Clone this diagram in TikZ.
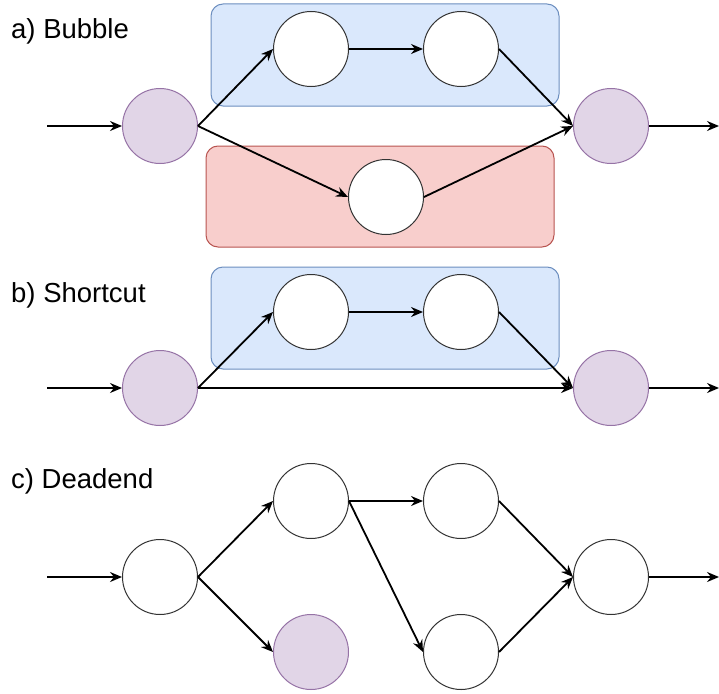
\documentclass[tikz,border=0pt]{standalone}
\usepackage{fontspec}
\setmainfont{Liberation Sans}
\usetikzlibrary{arrows.meta}
\definecolor{bluefill}{HTML}{DAE8FC}
\definecolor{bluestroke}{HTML}{6C8EBF}
\definecolor{redfill}{HTML}{F8CECC}
\definecolor{redstroke}{HTML}{B85450}
\definecolor{purplefill}{HTML}{E1D5E7}
\definecolor{purplestroke}{HTML}{9673A6}
\tikzset{
  state/.style={circle, draw=black!80, line width=1pt, fill=white, minimum size=75pt, inner sep=0pt},
  marked/.style={state, draw=purplestroke, fill=purplefill},
  bluegroup/.style={draw=bluestroke, fill=bluefill, line width=1pt, rounded corners=12pt},
  redgroup/.style={draw=redstroke, fill=redfill, line width=1pt, rounded corners=12pt},
  flow/.style={line width=1.8pt, -{Stealth[length=12pt,width=10pt,inset=4pt]}},
  caption/.style={anchor=base west, inner sep=0pt, font=\fontsize{27.5pt}{30pt}\selectfont}
}
\begin{document}
\begin{tikzpicture}[x=1pt,y=-1pt]
\useasboundingbox (0,0) rectangle (719,693);

% ---- a) Bubble ----
\node[caption] (la) at (11,38) {a) Bubble};
\draw[bluegroup] (211,4) rectangle (559,106);
\draw[redgroup] (206,146) rectangle (554,247);
\node[marked] (aL) at (160,126) {};
\node[state]  (aT1) at (311,49) {};
\node[state]  (aT2) at (461,49) {};
\node[state]  (aB) at (386,197) {};
\node[marked] (aR) at (611,126) {};
\coordinate (aIn) at (47,126);
\coordinate (aOut) at (719,126);
\draw[flow] (aIn) -- (aL.west);
\draw[flow] (aL.east) -- (aT1.west);
\draw[flow] (aT1.east) -- (aT2.west);
\draw[flow] (aT2.east) -- (aR.west);
\draw[flow] (aL.east) -- (aB.west);
\draw[flow] (aB.east) -- (aR.west);
\draw[flow] (aR.east) -- (aOut);

% ---- b) Shortcut ----
\node[caption] (lb) at (11,302) {b) Shortcut};
\draw[bluegroup] (211,267) rectangle (559,369);
\node[marked] (bL) at (160,388) {};
\node[state]  (bT1) at (311,312) {};
\node[state]  (bT2) at (461,312) {};
\node[marked] (bR) at (611,388) {};
\coordinate (bIn) at (47,388);
\coordinate (bOut) at (719,388);
\draw[flow] (bIn) -- (bL.west);
\draw[flow] (bL.east) -- (bT1.west);
\draw[flow] (bT1.east) -- (bT2.west);
\draw[flow] (bT2.east) -- (bR.west);
\draw[flow] (bL.east) -- (bR.west);
\draw[flow] (bR.east) -- (bOut);

% ---- c) Deadend ----
\node[caption] (lc) at (11,488) {c) Deadend};
\node[state]  (cL) at (160,577) {};
\node[state]  (cT1) at (311,501) {};
\node[state]  (cT2) at (461,501) {};
\node[marked] (cD) at (311,652) {};
\node[state]  (cB2) at (461,652) {};
\node[state]  (cR) at (611,577) {};
\coordinate (cIn) at (47,577);
\coordinate (cOut) at (719,577);
\draw[flow] (cIn) -- (cL.west);
\draw[flow] (cL.east) -- (cT1.west);
\draw[flow] (cL.east) -- (cD.west);
\draw[flow] (cT1.east) -- (cT2.west);
\draw[flow] (cT1.east) -- (cB2.west);
\draw[flow] (cT2.east) -- (cR.west);
\draw[flow] (cB2.east) -- (cR.west);
\draw[flow] (cR.east) -- (cOut);
\end{tikzpicture}
\end{document}
